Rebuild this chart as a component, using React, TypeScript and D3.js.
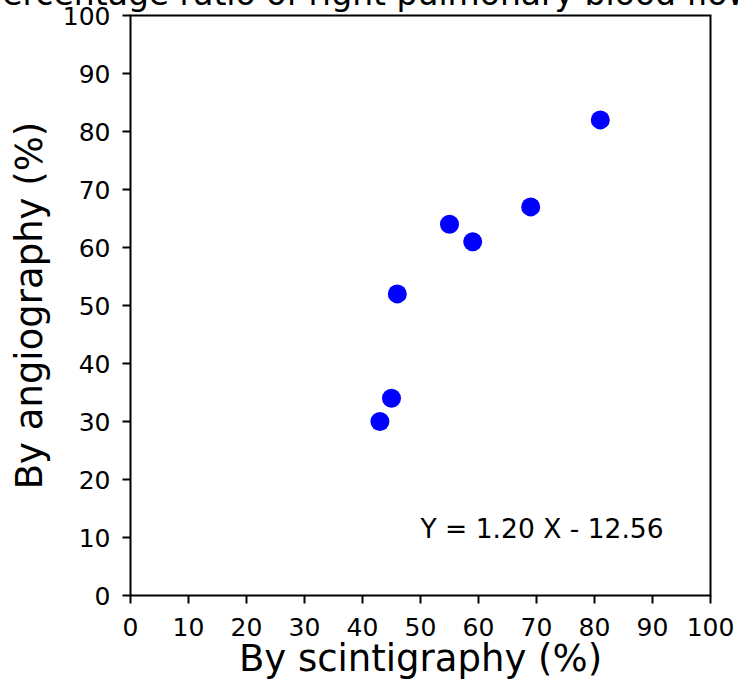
import * as d3 from 'd3';

const scintigraphy = [43, 45, 46, 55, 59, 69, 81];
const angiography = [30, 34, 52, 64, 61, 67, 82];
const ticks = [0, 10, 20, 30, 40, 50, 60, 70, 80, 90, 100];
const title = 'Percentage ratio of right pulmonary blood flow';
const equation = 'Y = 1.20 X - 12.56';

const W = 738;
const H = 687;
const m = { left: 130.5, right: 27.5, top: 15.5, bottom: 91.5 };
const font = 'DejaVu Sans, sans-serif';

export default function App() {
  const x = d3.scaleLinear().domain([0, 100]).range([m.left, W - m.right]);
  const y = d3.scaleLinear().domain([0, 100]).range([H - m.bottom, m.top]);
  const pts = d3.zip(scintigraphy, angiography);

  return (
    <svg width={W} height={H} style={{ position: 'absolute', left: 0, top: 0 }}>
      <rect width={W} height={H} fill="white" />
      {/* title sits partly above the figure, as in the source */}
      <text x={W / 2} y={5} textAnchor="middle" fontSize={33} fontFamily={font}>
        {title}
      </text>
      {pts.map(([a, b], i) => (
        <circle key={i} cx={x(a)} cy={y(b)} r={9.5} fill="#0000ff" />
      ))}
      <text x={x(50)} y={y(10)} fontSize={26.5} fontFamily={font}>
        {equation}
      </text>
      <rect
        x={x(0)}
        y={y(100)}
        width={x(100) - x(0)}
        height={y(0) - y(100)}
        fill="none"
        stroke="black"
        strokeWidth={2}
      />
      {ticks.map(t => (
        <g key={'x' + t}>
          <line x1={x(t)} x2={x(t)} y1={y(0)} y2={y(0) + 8} stroke="black" strokeWidth={2} />
          <text x={x(t)} y={y(0) + 40} textAnchor="middle" fontSize={25} fontFamily={font}>
            {t}
          </text>
        </g>
      ))}
      {ticks.map(t => (
        <g key={'y' + t}>
          <line x1={x(0) - 8} x2={x(0)} y1={y(t)} y2={y(t)} stroke="black" strokeWidth={2} />
          <text x={x(0) - 20} y={y(t) + 9} textAnchor="end" fontSize={25} fontFamily={font}>
            {t}
          </text>
        </g>
      ))}
      <text x={(x(0) + x(100)) / 2} y={671} textAnchor="middle" fontSize={37} fontFamily={font}>
        By scintigraphy (%)
      </text>
      <text
        transform={`translate(42,${(y(0) + y(100)) / 2}) rotate(-90)`}
        textAnchor="middle"
        fontSize={37}
        fontFamily={font}
      >
        By angiography (%)
      </text>
    </svg>
  );
}
